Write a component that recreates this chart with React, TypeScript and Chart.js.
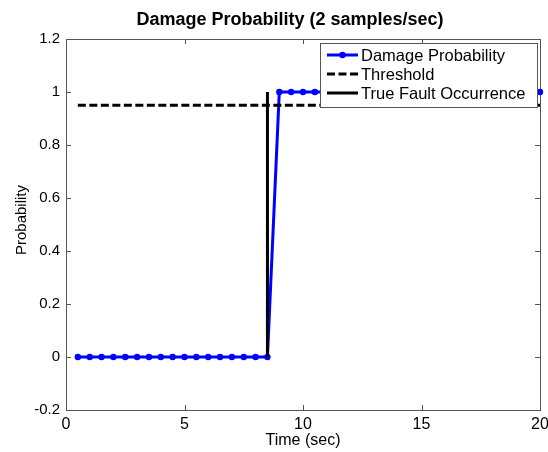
import React, { useEffect, useRef } from "react";
import { Chart, registerables } from "chart.js";

Chart.register(...registerables);

const TIME = [0.5, 1, 1.5, 2, 2.5, 3, 3.5, 4, 4.5, 5, 5.5, 6, 6.5, 7, 7.5, 8, 8.5, 9, 9.5, 10, 10.5, 11, 11.5, 12, 12.5, 13, 13.5, 14, 14.5, 15, 15.5, 16, 16.5, 17, 17.5, 18, 18.5, 19, 19.5, 20];
const DAMAGE_PROB = [0, 0, 0, 0, 0, 0, 0, 0, 0, 0, 0, 0, 0, 0, 0, 0, 0, 1, 1, 1, 1, 1, 1, 1, 1, 1, 1, 1, 1, 1, 1, 1, 1, 1, 1, 1, 1, 1, 1, 1];
const THRESHOLD_X = [0.5, 20];
const THRESHOLD_Y = [0.95, 0.95];
const FAULT_X = [8.5, 8.5];
const FAULT_Y = [0, 1];
const X_TICKS = [0, 5, 10, 15, 20];
const Y_TICKS = [-0.2, 0, 0.2, 0.4, 0.6, 0.8, 1, 1.2];
const SERIES_NAMES = ["Damage Probability", "Threshold", "True Fault Occurrence"];
const TITLE = "Damage Probability (2 samples/sec)";
const X_LABEL = "Time (sec)";
const Y_LABEL = "Probability";

const FONT = "'Liberation Sans', Arial, sans-serif";
const BLUE = "#0000ff";

const decor = {
  id: "decor",
  beforeDatasetsDraw(chart: any) {
    const { ctx, chartArea: a, scales } = chart;
    ctx.save();
    ctx.strokeStyle = "#555";
    ctx.lineWidth = 1;
    ctx.strokeRect(Math.round(a.left) + 0.5, Math.round(a.top) + 0.5, Math.round(a.right - a.left), Math.round(a.bottom - a.top));
    const tl = 5;
    ctx.beginPath();
    X_TICKS.forEach((v) => {
      const x = Math.round(scales.x.getPixelForValue(v)) + 0.5;
      ctx.moveTo(x, a.bottom);
      ctx.lineTo(x, a.bottom - tl);
      ctx.moveTo(x, a.top);
      ctx.lineTo(x, a.top + tl);
    });
    Y_TICKS.forEach((v) => {
      const y = Math.round(scales.y.getPixelForValue(v)) + 0.5;
      ctx.moveTo(a.left, y);
      ctx.lineTo(a.left + tl, y);
      ctx.moveTo(a.right, y);
      ctx.lineTo(a.right - tl, y);
    });
    ctx.stroke();
    ctx.restore();
  },
  afterDatasetsDraw(chart: any) {
    const { ctx, chartArea: a } = chart;
    ctx.save();
    // title
    ctx.fillStyle = "#000";
    ctx.font = `bold 18px ${FONT}`;
    ctx.textAlign = "center";
    ctx.textBaseline = "middle";
    ctx.fillText(TITLE, 290, 20);
    // x label
    ctx.font = `16px ${FONT}`;
    ctx.fillText(X_LABEL, (a.left + a.right) / 2, 441);
    // y label
    ctx.save();
    ctx.translate(22, 220);
    ctx.rotate(-Math.PI / 2);
    ctx.font = `15px ${FONT}`;
    ctx.fillText(Y_LABEL, 0, 0);
    ctx.restore();
    // legend
    const lx = 320, ly = 43, lw = 217, lh = 64;
    ctx.fillStyle = "#fff";
    ctx.fillRect(lx, ly, lw, lh);
    ctx.strokeStyle = "#555";
    ctx.lineWidth = 1;
    ctx.strokeRect(lx + 0.5, ly + 0.5, lw, lh);
    const rows = [55, 74, 93];
    const ds = chart.data.datasets;
    rows.forEach((ry, i) => {
      const d = ds[i];
      ctx.strokeStyle = d.borderColor;
      ctx.lineWidth = 3;
      ctx.setLineDash(d.borderDash || []);
      ctx.beginPath();
      ctx.moveTo(327, ry);
      ctx.lineTo(358, ry);
      ctx.stroke();
      ctx.setLineDash([]);
      if (i === 0) {
        ctx.fillStyle = BLUE;
        ctx.beginPath();
        ctx.arc(342.5, ry, 3.2, 0, Math.PI * 2);
        ctx.fill();
      }
      ctx.fillStyle = "#000";
      ctx.font = `16.5px ${FONT}`;
      ctx.textAlign = "left";
      ctx.textBaseline = "middle";
      ctx.fillText(SERIES_NAMES[i], 361, ry + 1);
    });
    ctx.restore();
  },
};

export default function App() {
  const ref = useRef<HTMLCanvasElement>(null);
  useEffect(() => {
    const canvas = ref.current!;
    const chart = new Chart(canvas, {
      type: "line",
      data: {
        datasets: [
          {
            label: SERIES_NAMES[0],
            data: TIME.map((t, i) => ({ x: t, y: DAMAGE_PROB[i] })),
            borderColor: BLUE,
            backgroundColor: BLUE,
            borderWidth: 3,
            pointRadius: 3.2,
            pointBorderWidth: 0,
            pointBackgroundColor: BLUE,
            tension: 0,
            clip: false as any,
            order: 3,
          },
          {
            label: SERIES_NAMES[1],
            data: THRESHOLD_X.map((t, i) => ({ x: t, y: THRESHOLD_Y[i] })),
            borderColor: "#000",
            borderWidth: 3,
            borderDash: [8, 3.5],
            pointRadius: 0,
            order: 2,
          },
          {
            label: SERIES_NAMES[2],
            data: FAULT_X.map((t, i) => ({ x: t, y: FAULT_Y[i] })),
            borderColor: "#000",
            borderWidth: 3,
            pointRadius: 0,
            order: 1,
          },
        ],
      },
      options: {
        responsive: false,
        animation: false,
        devicePixelRatio: 1,
        layout: { padding: { left: 0, right: 8, top: 39, bottom: 0 } },
        plugins: { legend: { display: false }, title: { display: false }, tooltip: { enabled: false } },
        events: [],
        scales: {
          x: {
            type: "linear",
            min: 0,
            max: 20,
            grid: { display: false, drawTicks: false },
            border: { display: false },
            ticks: { font: { family: FONT, size: 16 }, color: "#000", padding: 5, maxRotation: 0 },
            afterBuildTicks: (s: any) => { s.ticks = X_TICKS.map((v) => ({ value: v })); },
            afterFit: (s: any) => { s.height = 42; s.paddingLeft = 0; s.paddingRight = 0; },
          },
          y: {
            type: "linear",
            min: -0.2,
            max: 1.2,
            grid: { display: false, drawTicks: false },
            border: { display: false },
            ticks: {
              font: { family: FONT, size: 15 },
              color: "#000",
              padding: 6,
              callback: (v: any) => String(Number(Number(v).toFixed(1))),
            },
            afterBuildTicks: (s: any) => { s.ticks = Y_TICKS.map((v) => ({ value: v })); },
            afterFit: (s: any) => { s.width = 66; s.paddingTop = 0; s.paddingBottom = 0; },
          },
        },
      } as any,
      plugins: [decor],
    });
    return () => chart.destroy();
  }, []);
  return (
    <div style={{ position: "fixed", left: 0, top: 0, width: 548, height: 452, background: "#fff" }}>
      <canvas ref={ref} width={548} height={452} style={{ width: 548, height: 452, display: "block" }} />
    </div>
  );
}
